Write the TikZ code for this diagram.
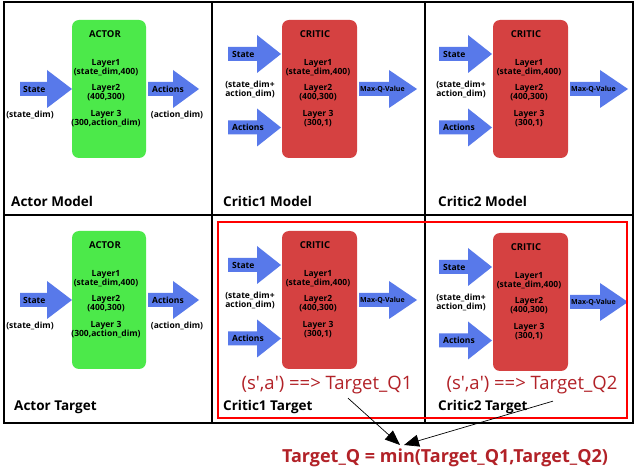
\documentclass[tikz,border=0pt]{standalone}
\usepackage{fontspec}
\setmainfont{Open Sans}
\usetikzlibrary{arrows.meta}

\definecolor{actorGreen}{RGB}{76,233,74}
\definecolor{criticRed}{RGB}{213,65,65}
\definecolor{arrowBlue}{RGB}{88,121,234}
\definecolor{qRed}{RGB}{178,34,40}

\tikzset{
    cellLine/.style={line width=2.5pt, black},
    netBox/.style={rounded corners=7pt, minimum width=74pt, minimum height=138pt, inner sep=0pt},
    netTitle/.style={font=\bfseries\fontsize{9.5}{10}\selectfont, inner sep=0pt},
    layerText/.style={font=\bfseries\fontsize{8.5}{9}\selectfont, align=center, inner sep=0pt},
    armText/.style={font=\bfseries\fontsize{8.5}{9}\selectfont, anchor=west, inner sep=0pt},
    qText/.style={font=\bfseries\fontsize{7}{8}\selectfont, anchor=west, inner sep=0pt},
    panelTitle/.style={font=\bfseries\fontsize{13.5}{15}\selectfont, anchor=west, inner sep=0pt},
    targetText/.style={font=\fontsize{18.5}{20}\selectfont, text=qRed, inner sep=0pt},
}

% block arrow: tail x, centre y, head base x, tip x
\newcommand{\blockArrow}[4]{%
    \fill[arrowBlue] (#1,#2-7) -- (#3,#2-7) -- (#3,#2-19) -- (#4,#2)
        -- (#3,#2+19) -- (#3,#2+7) -- (#1,#2+7) -- cycle;}

% actor network panel: name, x shift, y shift
\newcommand{\actorPanel}[3]{%
    \begin{scope}[shift={(#2,#3)}]
        \node[netBox, fill=actorGreen] (#1box) at (105,89) {};
        \node[netTitle] (#1title) at (101,34) {ACTOR};
        \node[layerText] (#1l1) at (102,67.5) {Layer1\\(state\_dim,400)};
        \node[layerText] (#1l2) at (102,92.5) {Layer2\\(400,300)};
        \node[layerText] (#1l3) at (102,118.5) {Layer 3\\(300,action\_dim)};
        \blockArrow{16}{89}{43}{68}
        \node[armText] (#1state) at (19,89) {State};
        \node[layerText] (#1sdim) at (26,115) {(state\_dim)};
        \blockArrow{144}{89}{169}{195}
        \node[armText] (#1act) at (148,89) {Actions};
        \node[layerText] (#1adim) at (173,115) {(action\_dim)};
    \end{scope}}

% critic network panel: name, x shift, y shift
\newcommand{\criticPanel}[3]{%
    \begin{scope}[shift={(#2,#3)}]
        \node[netBox, fill=criticRed, minimum width=75pt] (#1box) at (107.5,89) {};
        \node[netTitle] (#1title) at (103,34) {CRITIC};
        \node[layerText] (#1l1) at (106,67.5) {Layer1\\(state\_dim,400)};
        \node[layerText] (#1l2) at (106,92.5) {Layer2\\(400,300)};
        \node[layerText] (#1l3) at (106,118.5) {Layer 3\\(300,1)};
        \blockArrow{16}{54}{45}{69}
        \node[armText] (#1state) at (20,54) {State};
        \node[layerText] (#1in) at (38,89.5) {(state\_dim+\\ action\_dim)};
        \blockArrow{16}{127.5}{45}{69}
        \node[armText] (#1act) at (20,127.5) {Actions};
        \blockArrow{147}{89}{177}{205}
        \node[qText] (#1q) at (148,89) {Max-Q-Value};
    \end{scope}}

\begin{document}
\begin{tikzpicture}[x=1pt, y=-1pt]
    \useasboundingbox (0,0) rectangle (638,473);
    \fill[white] (0,0) rectangle (638,473);

    % grid of panels
    \draw[cellLine] (4,2) rectangle (633,423);
    \draw[cellLine] (212,2) -- (212,423);
    \draw[cellLine] (425,2) -- (425,423);
    \draw[cellLine] (4,215) -- (633,215);

    \actorPanel{am}{4}{0}
    \criticPanel{c1m}{212}{0}
    \criticPanel{c2m}{423}{0}
    \actorPanel{at}{4}{211}
    \criticPanel{c1t}{212}{211}
    \criticPanel{c2t}{423}{213}

    \node[panelTitle] (amName) at (11,201) {Actor Model};
    \node[panelTitle] (c1mName) at (223,201) {Critic1 Model};
    \node[panelTitle] (c2mName) at (438,201) {Critic2 Model};
    \node[panelTitle] (atName) at (14,407) {Actor Target};
    \node[panelTitle] (c1tName) at (223,407) {Critic1 Target};
    \node[panelTitle] (c2tName) at (438,407) {Critic2 Target};

    % target critics
    \draw[red, line width=2.5pt] (218,222) rectangle (627,418);
    \node[targetText] (q1) at (327,385) {(s\textquotesingle,a\textquotesingle) ==> Target\_Q1};
    \node[targetText] (q2) at (532,385) {(s\textquotesingle,a\textquotesingle) ==> Target\_Q2};

    \node[font=\bfseries\fontsize{18}{20}\selectfont, text=qRed, inner sep=0pt] (minq) at (445,458)
        {Target\_Q = min(Target\_Q1,Target\_Q2)};

    \coordinate (q1tail) at ([xshift=21pt, yshift=-4pt]q1.south);
    \coordinate (q2tail) at ([xshift=21pt, yshift=-7pt]q2.south);
    \coordinate (meet) at (400,445);
    \draw[-{Triangle[length=15pt, width=12pt]}, line width=0.7pt] (q1tail) -- (meet);
    \draw[-{Triangle[length=15pt, width=12pt]}, line width=0.7pt] (q2tail) -- ([xshift=4pt]meet);
\end{tikzpicture}
\end{document}
